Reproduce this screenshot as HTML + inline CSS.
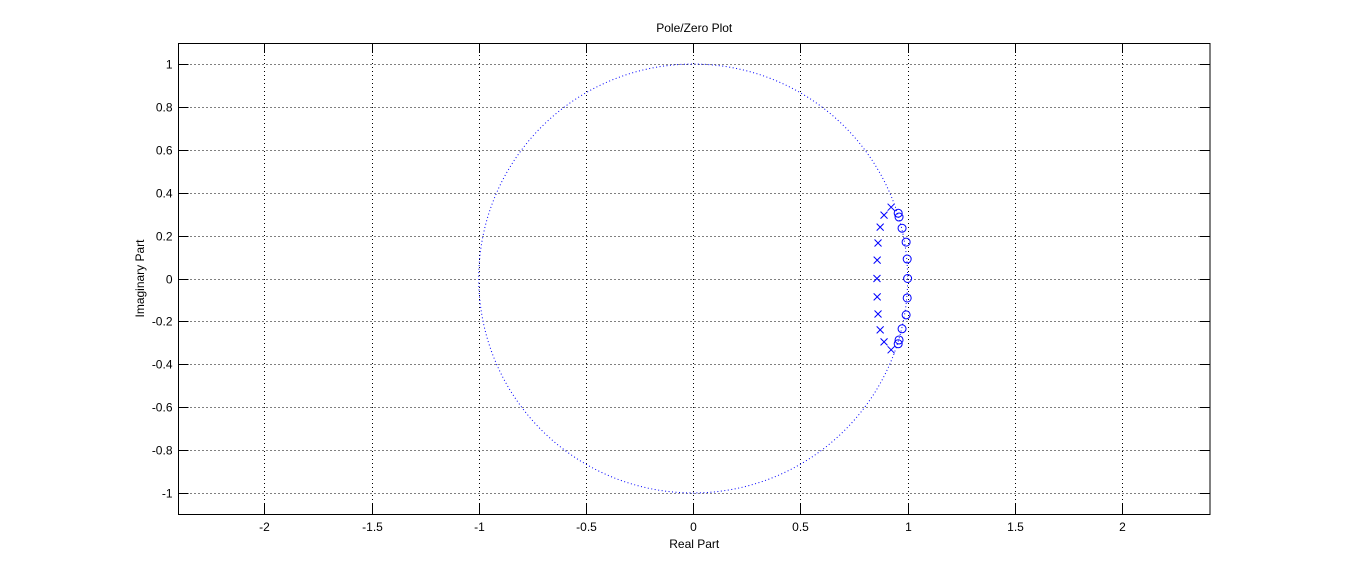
<!DOCTYPE html>
<html><head><meta charset="utf-8"><style>
html,body{margin:0;padding:0;background:#fff;width:1366px;height:579px;overflow:hidden}
svg text{font-family:"Liberation Sans",Arial,sans-serif;font-size:12px;fill:#000}
</style></head><body>
<svg id="chart" width="1366" height="579" xmlns="http://www.w3.org/2000/svg"></svg>
<script>
const xTicks=[-2,-1.5,-1,-0.5,0,0.5,1,1.5,2];
const yTicks=[1,0.8,0.6,0.4,0.2,0,-0.2,-0.4,-0.6,-0.8,-1];
const poleRe=[0.923,0.890,0.872,0.862,0.858,0.857,0.858,0.862,0.872,0.890,0.923];
const poleIm=[0.333,0.296,0.240,0.166,0.086,0,-0.086,-0.166,-0.240,-0.296,-0.333];
const zeroRe=[0.956,0.960,0.974,0.993,0.998,1.0,0.998,0.993,0.974,0.960,0.956];
const zeroIm=[0.305,0.287,0.235,0.170,0.091,0,-0.091,-0.170,-0.235,-0.287,-0.305];
const L=178.5,R=1210,T=43,B=514,xMin=-2.4,xMax=2.41,yMin=-1.1,yMax=1.1;
const sx=v=>L+(v-xMin)/(xMax-xMin)*(R-L);
const sy=v=>B-(v-yMin)/(yMax-yMin)*(B-T);
const svg=document.getElementById('chart');
const NS='http://www.w3.org/2000/svg';
function mk(tag,attrs,parent){const e=document.createElementNS(NS,tag);for(const k in attrs)e.setAttribute(k,attrs[k]);(parent||svg).appendChild(e);return e;}
// grid
xTicks.forEach(v=>{const x=Math.round(sx(v))+0.5;
 const g=mk('line',{x1:x,x2:x,y1:T,y2:B,stroke:'#000','stroke-width':1,'stroke-dasharray':'1 3'});
 
 
 const t1=mk('line',{x1:x,x2:x,y1:B,y2:B-10,stroke:'#000'});
 
 
 const t2=mk('line',{x1:x,x2:x,y1:T,y2:T+10,stroke:'#000'});
 
 
 const lb=mk('text',{x:x,y:B+17,'text-anchor':'middle'});lb.textContent=String(v);
 
 
});
yTicks.forEach(v=>{const y=Math.round(sy(v))+0.5;
 const g=mk('line',{x1:L,x2:R,y1:y,y2:y,stroke:'#000','stroke-width':1,'stroke-dasharray':'1 3'});
 
 
 const t1=mk('line',{x1:L,x2:L+10,y1:y,y2:y,stroke:'#000'});
 
 
 const t2=mk('line',{x1:R,x2:R-10,y1:y,y2:y,stroke:'#000'});
 
 
 const lb=mk('text',{x:L-6,y:y+4,'text-anchor':'end'});lb.textContent=String(v);
 
 
});
// unit circle dotted
const circ=mk('circle',{cx:sx(0),cy:sy(0),r:sx(1)-sx(0),fill:'none',stroke:'#0000ff','stroke-width':1,'stroke-dasharray':'1 2.5'});


// poles
poleRe.forEach((re,i)=>{const x=sx(re),y=sy(poleIm[i]),s=3.5;
 const p=mk('path',{d:`M${x-s},${y-s}L${x+s},${y+s}M${x-s},${y+s}L${x+s},${y-s}`,stroke:'#0000ff','stroke-width':1,fill:'none'});
 
 
});
zeroRe.forEach((re,i)=>{
 const c=mk('circle',{cx:sx(re),cy:sy(zeroIm[i]),r:4,fill:'none',stroke:'#0000ff','stroke-width':1});
 
 
});
// box
const box=mk('rect',{x:L,y:T+0.5,width:R-L,height:B-T,fill:'none',stroke:'#000','stroke-width':1});


const title=mk('text',{x:(L+R)/2,y:32,'text-anchor':'middle'});title.textContent='Pole/Zero Plot';


const xl=mk('text',{x:(L+R)/2,y:548,'text-anchor':'middle'});xl.textContent='Real Part';


const yl=mk('text',{x:0,y:0,'text-anchor':'middle',transform:`translate(144,${(T+B)/2}) rotate(-90)`});yl.textContent='Imaginary Part';


</script>
</body></html>
